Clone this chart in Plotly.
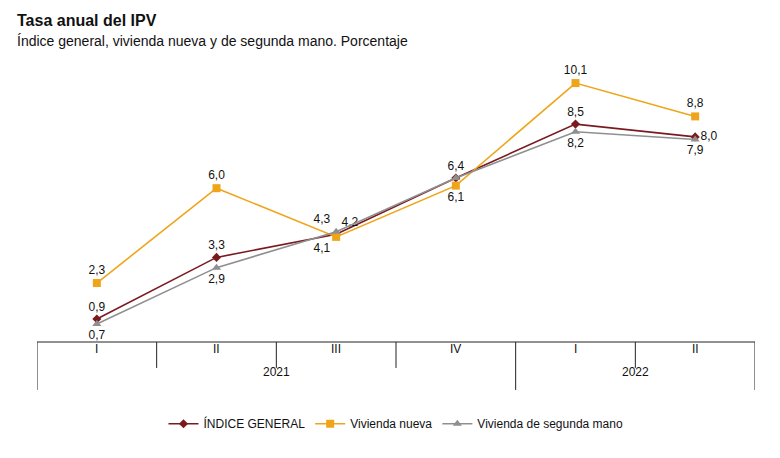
import plotly.graph_objects as go

quarters = ["I", "II", "III", "IV", "I", "II"]
years = ["2021", "2022"]
year_spans = [(0, 3), (4, 5)]

general = [0.9, 3.3, 4.2, 6.4, 8.5, 8.0]
nueva = [2.3, 6.0, 4.1, 6.1, 10.1, 8.8]
segunda = [0.7, 2.9, 4.3, 6.4, 8.2, 7.9]

general_pos = ["top center", "top center", "top right", "top center", "top center", "middle right"]
nueva_pos = ["top center", "top center", "bottom left", "bottom center", "top center", "top center"]
segunda_pos = ["bottom center", "bottom center", "top left", "top center", "bottom center", "bottom center"]
segunda_show = [True, True, True, False, True, True]


def fmt(v):
    return f"{v:.1f}".replace(".", ",")


x = list(range(len(quarters)))
fig = go.Figure()

series = [
    ("ÍNDICE GENERAL", general, general_pos, "#7a1a1f", "diamond", 7, [True] * 6),
    ("Vivienda nueva", nueva, nueva_pos, "#eea51a", "square", 8, [True] * 6),
    ("Vivienda de segunda mano", segunda, segunda_pos, "#8f8f8f", "triangle-up", 8, segunda_show),
]
for name, vals, pos, col, sym, size, show in series:
    fig.add_trace(go.Scatter(
        x=x, y=vals, name=name, mode="lines+markers+text",
        text=[fmt(v) if s else "" for v, s in zip(vals, show)],
        textposition=pos, textfont=dict(size=12, color="#111"),
        line=dict(color=col, width=1.6),
        marker=dict(color=col, symbol=sym, size=size),
    ))

# category table under the axis
line = dict(color="#222", width=1)
fig.add_shape(type="line", xref="x", yref="paper", x0=-0.5, x1=5.5, y0=0, y1=0, line=line)
for i in range(len(quarters) + 1):
    long_ = (i - 0.5) in (-0.5, 3.5, 5.5)
    fig.add_shape(type="line", xref="x", yref="paper", x0=i - 0.5, x1=i - 0.5,
                  y0=0, y1=-0.17 if long_ else -0.092, line=line)
for i, q in enumerate(quarters):
    fig.add_annotation(x=i, y=-0.055, xref="x", yref="paper", text=q,
                       showarrow=False, font=dict(size=12, color="#111"))
for yr, (a, b) in zip(years, year_spans):
    fig.add_annotation(x=(a + b) / 2, y=-0.14, xref="x", yref="paper", text=yr,
                       showarrow=False, font=dict(size=12, color="#111"))

fig.add_annotation(x=0, y=1.0, xref="paper", yref="paper", xanchor="left", yanchor="bottom",
                   xshift=-22, yshift=29, text="<b>Tasa anual del IPV</b>", showarrow=False,
                   font=dict(size=16, color="#111"))
fig.add_annotation(x=0, y=1.0, xref="paper", yref="paper", xanchor="left", yanchor="bottom",
                   xshift=-22, yshift=9, text="Índice general, vivienda nueva y de segunda mano. Porcentaje",
                   showarrow=False, font=dict(size=14, color="#111"))

fig.update_layout(
    width=780, height=458,
    margin=dict(l=29, r=33, t=52, b=124),
    plot_bgcolor="white", paper_bgcolor="white",
    font=dict(family="Liberation Sans, Arial, sans-serif", color="#111"),
    xaxis=dict(range=[-0.5, 5.5], visible=False),
    yaxis=dict(range=[0, 11], visible=False),
    showlegend=True,
    legend=dict(orientation="h", x=0.5, xanchor="center", y=-0.29, yanchor="middle",
                font=dict(size=12)),
)

fig.write_html("out.html")
